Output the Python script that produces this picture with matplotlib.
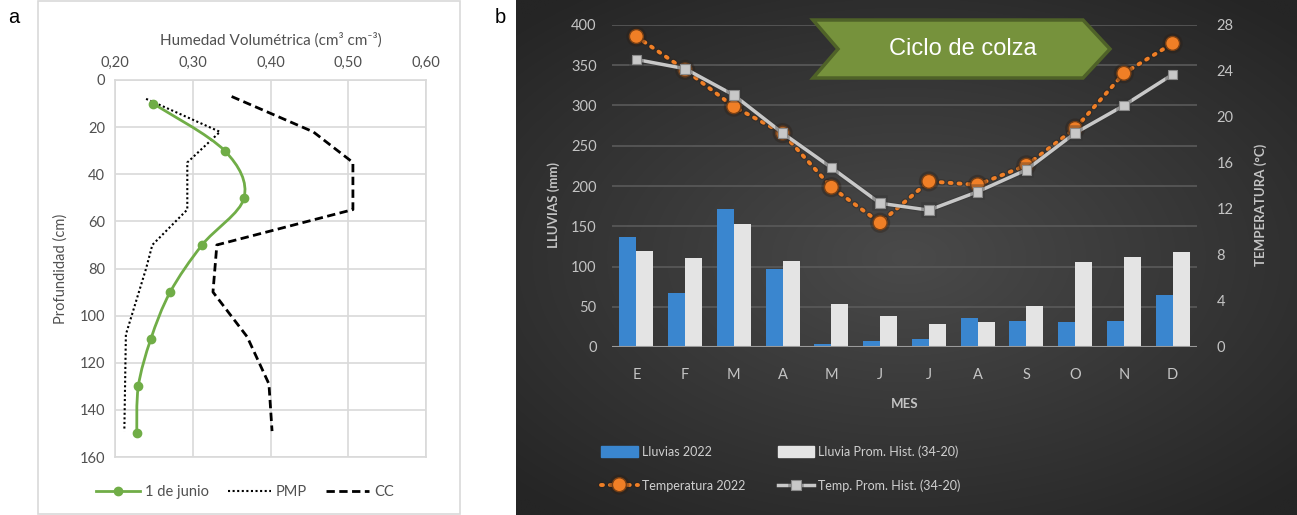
import numpy as np
import matplotlib
matplotlib.use("Agg")
import matplotlib.pyplot as plt
from matplotlib.path import Path
from matplotlib.patches import PathPatch, Polygon, Rectangle
from matplotlib.lines import Line2D
import matplotlib.patheffects as pe

plt.rcParams['font.family'] = ['Lato', 'DejaVu Sans']

# --- panel a: soil moisture profile ---
prof_junio = [10, 30, 50, 70, 90, 110, 130, 150]
hum_junio = [0.249, 0.341, 0.366, 0.312, 0.271, 0.246, 0.230, 0.228]
prof_pmp = [8, 22, 35, 55, 70, 80, 108, 149]
hum_pmp = [0.240, 0.335, 0.293, 0.293, 0.248, 0.240, 0.214, 0.212]
prof_cc = [7, 22, 35, 55, 70, 90, 109, 129, 149]
hum_cc = [0.350, 0.455, 0.506, 0.506, 0.331, 0.326, 0.370, 0.398, 0.402]

# --- panel b: rainfall and temperature by month ---
meses = ['E', 'F', 'M', 'A', 'M', 'J', 'J', 'A', 'S', 'O', 'N', 'D']
lluvias_2022 = [137, 67, 171, 97, 4, 7, 10, 36, 32, 31, 32, 65]
lluvia_hist = [119, 111, 153, 107, 53, 38, 29, 31, 51, 105, 112, 118]
temp_2022 = [27.0, 24.1, 20.9, 18.6, 13.9, 10.8, 14.4, 14.1, 15.8, 19.0, 23.8, 26.4]
temp_hist = [25.0, 24.2, 21.9, 18.6, 15.6, 12.5, 11.9, 13.5, 15.4, 18.6, 21.0, 23.7]

W, H = 1297, 515
fig = plt.figure(figsize=(W / 100, H / 100), dpi=100)


def fx(px):
    return px / W


def fy(py):
    return 1 - py / H


def smooth_path(xs, ys):
    # Catmull-Rom through the points, written as cubic Bezier segments
    pts = np.column_stack([xs, ys])
    n = len(pts)
    verts = [pts[0]]
    codes = [Path.MOVETO]
    for i in range(n - 1):
        p0 = pts[i - 1] if i > 0 else pts[i]
        p1 = pts[i]
        p2 = pts[i + 1]
        p3 = pts[i + 2] if i + 2 < n else pts[i + 1]
        c1 = p1 + (p2 - p0) / 6
        c2 = p2 - (p3 - p1) / 6
        verts += [c1, c2, p2]
        codes += [Path.CURVE4] * 3
    return Path(verts, codes)


# panel a frame
fig.patches.append(Rectangle((fx(38), fy(514)), fx(460) - fx(38), fy(1) - fy(514),
                             transform=fig.transFigure, fill=False,
                             edgecolor='#d9d9d9', lw=1.2, zorder=0))

txt_a = '#505050'
axa = fig.add_axes([fx(115), fy(457), fx(426) - fx(115), fy(80) - fy(457)])
axa.set_xlim(0.2, 0.6)
axa.set_ylim(160, 0)
axa.set_xticks([0.2, 0.3, 0.4, 0.5, 0.6])
axa.set_xticklabels(['0,20', '0,30', '0,40', '0,50', '0,60'])
axa.set_yticks(range(0, 161, 20))
axa.xaxis.tick_top()
axa.xaxis.set_label_position('top')
axa.tick_params(length=0, labelsize=10.5, colors=txt_a, pad=7)
axa.grid(True, color='#d9d9d9', lw=1.2)
axa.set_axisbelow(True)
for s in axa.spines.values():
    s.set_color('#d9d9d9')
    s.set_linewidth(1.2)
axa.set_xlabel('Humedad Volumétrica (cm³ cm⁻³)', fontsize=11, color=txt_a, labelpad=8)
axa.set_ylabel('Profundidad (cm)', fontsize=10.5, color=txt_a, labelpad=9)

green = '#70ad47'
axa.add_patch(PathPatch(smooth_path(hum_junio, prof_junio), fill=False,
                        edgecolor=green, lw=2, zorder=3))
axa.plot(hum_junio, prof_junio, 'o', color=green, ms=6, zorder=4)
axa.plot(hum_pmp, prof_pmp, color='black', lw=1.5, ls=(0, (1, 1.2)), zorder=2)
axa.plot(hum_cc, prof_cc, color='black', lw=2, ls=(0, (3, 1.6)), zorder=2)

h_junio = Line2D([], [], color=green, lw=2, marker='o', ms=6)
h_pmp = Line2D([], [], color='black', lw=1.5, ls=(0, (1, 1.2)))
h_cc = Line2D([], [], color='black', lw=2, ls=(0, (3, 1.6)))
fig.legend([h_junio, h_pmp, h_cc], ['1 de junio', 'PMP', 'CC'],
           loc='center', bbox_to_anchor=(fx(245), fy(492)), ncol=3, frameon=False,
           fontsize=10.5, handlelength=3.0, handletextpad=0.3, columnspacing=1.3,
           labelcolor=txt_a)

fig.text(fx(8), fy(23), 'a', fontsize=14.5, family='Liberation Sans', va='baseline')
fig.text(fx(495), fy(23), 'b', fontsize=14.5, family='Liberation Sans', va='baseline')

# panel b dark background with a soft radial gradient
bg = fig.add_axes([fx(516), 0, 1 - fx(516), 1])
gx, gy = np.meshgrid(np.linspace(-1, 1, 400), np.linspace(-1, 1, 300))
r = np.sqrt((gx * 0.95) ** 2 + (gy * 1.05) ** 2)
shade = np.clip(1 - r / 1.35, 0, 1)
c0 = np.array([0x25, 0x25, 0x25]) / 255
c1 = np.array([0x4a, 0x4a, 0x4a]) / 255
img = c0 + (c1 - c0) * shade[..., None]
bg.imshow(img, aspect='auto', extent=[0, 1, 0, 1], interpolation='bilinear')
bg.set_axis_off()

txt_b = '#c4c4c4'
axb = fig.add_axes([fx(612), fy(347), fx(1197) - fx(612), fy(25) - fy(347)])
axb.patch.set_alpha(0)
x = np.arange(len(meses))
bw = 0.35
axb.bar(x - bw / 2, lluvias_2022, width=bw, color='#3a86cf', zorder=2)
axb.bar(x + bw / 2, lluvia_hist, width=bw, color='#e4e4e4', zorder=2)
axb.set_xlim(-0.5, len(meses) - 0.5)
axb.set_ylim(0, 400)
axb.set_yticks(range(0, 401, 50))
axb.set_xticks(x)
axb.set_xticklabels(meses)
axb.grid(True, axis='y', color='#5a5a5a', lw=1.2)
axb.set_axisbelow(True)
axb.axhline(0, color='#9a9a9a', lw=1.5, zorder=3)
for s in axb.spines.values():
    s.set_visible(False)
axb.tick_params(length=0, labelsize=10.5, colors=txt_b)
axb.tick_params(axis='x', pad=15)
axb.tick_params(axis='y', pad=11)
axb.set_ylabel('LLUVIAS (mm)', fontsize=9.5, fontweight='bold', color=txt_b, labelpad=8)
axb.yaxis.label.set_y(0.44)
axb.set_xlabel('MES', fontsize=9.5, fontweight='bold', color=txt_b, labelpad=12)

ax2 = axb.twinx()
ax2.set_ylim(0, 28)
ax2.set_yticks(range(0, 29, 4))
for s in ax2.spines.values():
    s.set_visible(False)
ax2.tick_params(length=0, labelsize=10.5, colors=txt_b, pad=14)
ax2.set_ylabel('TEMPERATURA (°C)', fontsize=9.5, fontweight='bold', color=txt_b, labelpad=15)
ax2.yaxis.label.set_y(0.44)

glow = [pe.withStroke(linewidth=4.5, foreground='#2a1c12', alpha=0.35)]
orange = '#f07f26'
t22, = ax2.plot(x, temp_2022, color=orange, lw=2.8, ls=(0, (0.5, 1.8)),
                dash_capstyle='round', marker='o', ms=10, mfc=orange,
                mec='#7a4014', mew=1, zorder=3, path_effects=glow)
gray = '#c8c8c8'
th, = ax2.plot(x, temp_hist, color=gray, lw=2.5, marker='s', ms=7, mfc=gray,
               mec='#8a8a8a', mew=0.8, zorder=4,
               path_effects=[pe.withStroke(linewidth=4, foreground='#303030', alpha=0.35)])

h_ll = Rectangle((0, 0), 1, 1, color='#3a86cf')
h_lh = Rectangle((0, 0), 1, 1, color='#e4e4e4')
fig.legend([h_ll, t22, h_lh, th],
           ['Lluvias 2022', 'Temperatura 2022',
            'Lluvia Prom. Hist. (34-20)', 'Temp. Prom. Hist. (34-20)'],
           loc='upper left', bbox_to_anchor=(fx(590), fy(434)), ncol=2,
           frameon=False, fontsize=9, handlelength=2.9, handleheight=1.0,
           handletextpad=0.35, columnspacing=2.6, labelspacing=1.75,
           labelcolor='#d0d0d0')

# crop-cycle banner
banner = [(813, 20), (1083, 20), (1110, 49), (1083, 78), (813, 78), (838, 49)]
fig.patches.append(Polygon([(fx(px), fy(py)) for px, py in banner], closed=True,
                           transform=fig.transFigure, facecolor='#76923c',
                           edgecolor='#4f6228', lw=2.5, zorder=5))
fig.text(fx(963), fy(49), 'Ciclo de colza', color='white', fontsize=17,
         family='Liberation Sans', ha='center', va='center', zorder=6)

fig.savefig('out.png', dpi=100)
